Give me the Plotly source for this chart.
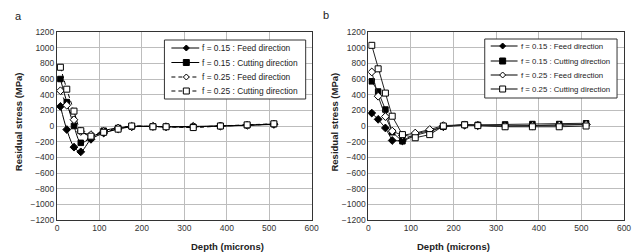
import plotly.graph_objects as go
from plotly.subplots import make_subplots

depth = [8, 23, 40, 56, 80, 110, 144, 176, 226, 257, 321, 385, 448, 511]

# Panel a
a_f15_feed = [250, -45, -270, -330, -170, -90, -40, -10, -5, -10, -5, 0, 10, 20]
a_f15_cut = [600, 305, 0, -215, -150, -60, -25, -5, -5, -10, -10, 0, 10, 25]
a_f25_feed = [450, 265, 80, -70, -110, -70, -25, -5, -5, -10, -10, 0, 10, 25]
a_f25_cut = [750, 470, 190, -60, -130, -80, -40, 0, -10, -10, -20, 0, 15, 28]

# Panel b
b_f15_feed = [165, 85, -25, -185, -190, -100, -60, -10, 10, 5, 0, 5, 10, 20]
b_f15_cut = [570, 440, 210, -80, -195, -120, -70, -10, 20, 15, 20, 25, 25, 35]
b_f25_feed = [690, 380, 120, -65, -120, -90, -45, 5, 15, 10, 0, 5, 10, 20]
b_f25_cut = [1030, 730, 420, 125, -110, -150, -110, 0, 15, 5, -10, -10, -10, 0]

names = ["f = 0.15 : Feed direction", "f = 0.15 : Cutting direction",
         "f = 0.25 : Feed direction", "f = 0.25 : Cutting direction"]
y_ticks = list(range(-1200, 1201, 200))
x_ticks = list(range(0, 601, 100))

FONT = "Liberation Sans, Arial, sans-serif"
OFF = 8  # page body margin offset
W, H = 643 - OFF, 252 - OFF
ML, MT = 57 - OFF, 32 - OFF
MR = W - (627 - OFF)
MB = H - (220 - OFF)
PW, PH = W - ML - MR, H - MT - MB


def px(x):
    return (x - OFF - ML) / PW


def py(y):
    return (H - MB - (y - OFF)) / PH


fig = make_subplots(rows=1, cols=2, horizontal_spacing=0.1)

styles = [
    dict(symbol="diamond", size=6, fill="black"),
    dict(symbol="square", size=5.5, fill="black"),
    dict(symbol="diamond", size=6, fill="white"),
    dict(symbol="square", size=6, fill="white"),
]

a_series = [a_f15_feed, a_f15_cut, a_f25_feed, a_f25_cut]
b_series = [b_f15_feed, b_f15_cut, b_f25_feed, b_f25_cut]

for i, (vals, st) in enumerate(zip(a_series, styles)):
    fig.add_trace(go.Scatter(
        x=depth, y=vals, name=names[i], mode="lines+markers", showlegend=False,
        line=dict(color="black", width=1, shape="spline", smoothing=0.8,
                  dash="4px,3px" if i >= 2 else "solid"),
        marker=dict(symbol=st["symbol"], size=st["size"], color=st["fill"],
                    line=dict(color="black", width=1))), row=1, col=1)

for i, (vals, st) in enumerate(zip(b_series, styles)):
    fig.add_trace(go.Scatter(
        x=depth, y=vals, name=names[i], mode="lines+markers", showlegend=False,
        line=dict(color="#222222", width=1),
        marker=dict(symbol=st["symbol"], size=st["size"], color=st["fill"],
                    line=dict(color="black", width=1))), row=1, col=2)

axis_common = dict(showgrid=True, gridcolor="#bdbdbd", gridwidth=1,
                   showline=True, linecolor="#333333", linewidth=1, mirror=True,
                   zeroline=False, ticks="", tickfont=dict(size=8.5, color="#333333", family=FONT))

for c in (1, 2):
    fig.update_xaxes(range=[0, 600], tickvals=x_ticks, row=1, col=c, **axis_common)
    fig.update_yaxes(range=[-1200, 1200], tickvals=y_ticks, row=1, col=c, **axis_common)

fig.update_xaxes(domain=[0, px(313)], row=1, col=1)
fig.update_xaxes(domain=[px(370), 1.0], row=1, col=2)

# Hand-drawn compact legends (like the reference)
shapes = []
annotations = []


def legend_box(x0, x1, y0, y1, rows_y, lx0, lx1, mx, tx, dashed_last, fsize):
    shapes.append(dict(type="rect", xref="paper", yref="paper",
                       x0=px(x0), x1=px(x1), y0=py(y0), y1=py(y1),
                       line=dict(color="#333333", width=1), fillcolor="white", layer="above"))
    for i, ry in enumerate(rows_y):
        dash = "4px,3px" if (dashed_last and i >= 2) else "solid"
        shapes.append(dict(type="line", xref="paper", yref="paper",
                           x0=px(lx0), x1=px(lx1), y0=py(ry), y1=py(ry),
                           line=dict(color="black", width=1, dash=dash), layer="above"))
        st = styles[i]
        if st["symbol"] == "square":
            s = 3
            shapes.append(dict(type="rect", xref="paper", yref="paper",
                               x0=px(mx - s), x1=px(mx + s), y0=py(ry - s), y1=py(ry + s),
                               line=dict(color="black", width=1), fillcolor=st["fill"], layer="above"))
        else:
            s = 3
            path = "M {} {} L {} {} L {} {} L {} {} Z".format(
                px(mx - s), py(ry), px(mx), py(ry - s), px(mx + s), py(ry), px(mx), py(ry + s))
            shapes.append(dict(type="path", xref="paper", yref="paper", path=path,
                               line=dict(color="black", width=1), fillcolor=st["fill"], layer="above"))
        annotations.append(dict(text=names[i], x=px(tx), y=py(ry), xref="paper", yref="paper",
                                showarrow=False, xanchor="left", yanchor="middle",
                                font=dict(size=fsize, color="#222222", family=FONT)))


legend_box(165, 307, 40, 99, [48, 62.5, 77, 91], 172, 200, 187, 201, True, 8.4)
legend_box(487, 620, 39, 98, [46, 61, 75, 89], 493, 520, 505, 521, False, 7.8)

annotations += [
    dict(text="a", x=px(18), y=py(16), xref="paper", yref="paper", showarrow=False,
         font=dict(size=11, family=FONT, color="#222222"), xanchor="center", yanchor="middle"),
    dict(text="b", x=px(327), y=py(15), xref="paper", yref="paper", showarrow=False,
         font=dict(size=11, family=FONT, color="#222222"), xanchor="center", yanchor="middle"),
    dict(text="<b>Depth (microns)</b>", x=px(190), y=py(246), xref="paper", yref="paper",
         showarrow=False, font=dict(size=9.5, family=FONT, color="#222222"), yanchor="middle"),
    dict(text="<b>Depth (microns)</b>", x=px(494), y=py(246), xref="paper", yref="paper",
         showarrow=False, font=dict(size=9.5, family=FONT, color="#222222"), yanchor="middle"),
    dict(text="<b>Residual stress (MPa)</b>", x=px(18), y=py(122), xref="paper", yref="paper",
         showarrow=False, textangle=-90, font=dict(size=9.5, family=FONT, color="#222222"),
         xanchor="center", yanchor="middle"),
    dict(text="<b>Residual stress (MPa)</b>", x=px(335), y=py(122), xref="paper", yref="paper",
         showarrow=False, textangle=-90, font=dict(size=9.5, family=FONT, color="#222222"),
         xanchor="center", yanchor="middle"),
]

fig.update_layout(
    width=W, height=H,
    margin=dict(l=ML, r=MR, t=MT, b=MB),
    plot_bgcolor="white", paper_bgcolor="white",
    font=dict(family=FONT, color="#222222"),
    showlegend=False,
    shapes=shapes,
    annotations=annotations,
)

fig.write_html("out.html")
